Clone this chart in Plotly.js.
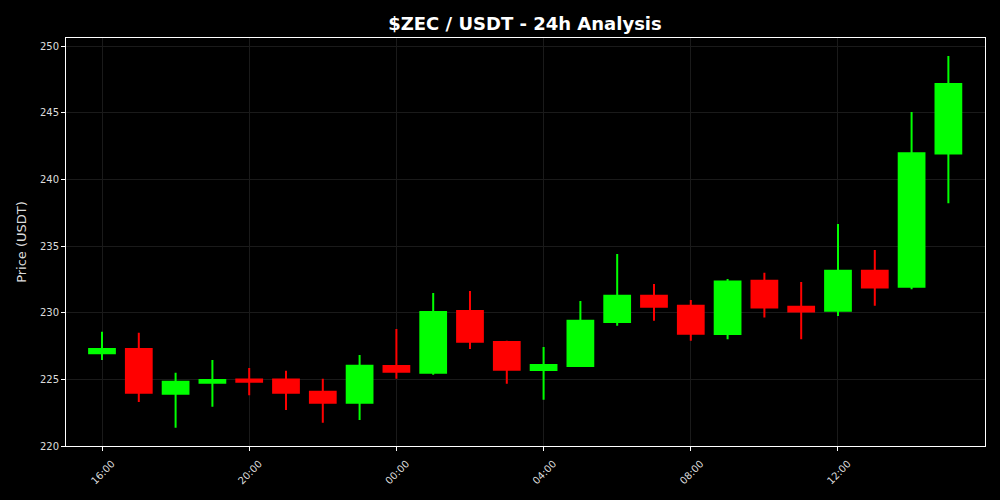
<!DOCTYPE html>
<html>
<head>
<meta charset="utf-8">
<script src="https://cdn.plot.ly/plotly-3.0.1.min.js"></script>
<style>html,body{margin:0;padding:0;background:#000;}#chart{width:1000px;height:500px;}</style>
</head>
<body>
<div id="chart"></div>
<script>
const times = [
  '2025-01-01 16:00','2025-01-01 17:00','2025-01-01 18:00','2025-01-01 19:00',
  '2025-01-01 20:00','2025-01-01 21:00','2025-01-01 22:00','2025-01-01 23:00',
  '2025-01-02 00:00','2025-01-02 01:00','2025-01-02 02:00','2025-01-02 03:00',
  '2025-01-02 04:00','2025-01-02 05:00','2025-01-02 06:00','2025-01-02 07:00',
  '2025-01-02 08:00','2025-01-02 09:00','2025-01-02 10:00','2025-01-02 11:00',
  '2025-01-02 12:00','2025-01-02 13:00','2025-01-02 14:00','2025-01-02 15:00'
];
const openP  = [226.95, 227.27, 223.92, 224.75, 224.98, 224.98, 224.07, 223.25,
                226.00, 225.50, 230.13, 227.80, 225.70, 226.00, 229.30, 231.27,
                230.52, 228.40, 232.40, 230.45, 230.15, 233.15, 231.95, 241.93];
const highP  = [228.57, 228.50, 225.50, 226.45, 225.85, 225.65, 225.05, 226.83,
                228.78, 231.47, 231.63, 227.90, 227.42, 230.88, 234.40, 232.15,
                230.95, 232.53, 233.00, 232.30, 236.65, 234.70, 245.05, 249.25];
const lowP   = [226.45, 223.30, 221.37, 222.95, 223.80, 222.70, 221.75, 221.95,
                225.05, 225.35, 227.27, 224.67, 223.47, 226.00, 229.02, 229.40,
                227.90, 228.00, 229.63, 228.00, 229.75, 230.52, 231.75, 238.20];
const closeP = [227.27, 224.00, 224.82, 224.95, 224.82, 224.00, 223.25, 226.02,
                225.57, 230.05, 227.82, 225.72, 226.07, 229.40, 231.27, 230.45,
                228.42, 232.33, 230.38, 230.08, 233.15, 231.88, 241.95, 247.15];
const yTicks = [220, 225, 230, 235, 240, 245, 250];

const trace = {
  type: 'candlestick',
  x: times, open: openP, high: highP, low: lowP, close: closeP,
  increasing: {line: {color: '#00ff00', width: 2}, fillcolor: '#00ff00'},
  decreasing: {line: {color: '#ff0000', width: 2}, fillcolor: '#ff0000'},
  whiskerwidth: 0,
  hoverinfo: 'x+y'
};

const gridC = '#1a1a1a';
const layout = {
  width: 1000, height: 500,
  paper_bgcolor: '#000', plot_bgcolor: '#000',
  margin: {l: 66, r: 15, t: 38, b: 54},
  showlegend: false,
  boxgap: 0,
  title: {text: '<b>$ZEC / USDT - 24h Analysis</b>', x: 0.525, xanchor: 'center', y: 0.953, yanchor: 'middle',
          font: {family: 'DejaVu Sans', size: 18, color: '#ffffff'}},
  xaxis: {
    type: 'date',
    range: ['2025-01-01 15:01:18', '2025-01-02 15:59:42'],
    rangeslider: {visible: false},
    tickformat: '%H:%M', dtick: 4*3600*1000, tick0: '2025-01-01 00:00',
    tickangle: -45,
    ticklabelshift: 10, ticklabelstandoff: 3,
    tickfont: {family: 'DejaVu Sans', size: 10, color: '#dddddd'},
    ticks: 'outside', ticklen: 4, tickcolor: '#ffffff', tickwidth: 1,
    showgrid: true, gridcolor: gridC, gridwidth: 1,
    showline: true, linecolor: '#ffffff', linewidth: 1, mirror: true,
    zeroline: false
  },
  yaxis: {
    range: [220, 250.6],
    tickvals: yTicks,
    tickfont: {family: 'DejaVu Sans', size: 10, color: '#dddddd'},
    ticks: 'outside', ticklen: 4, tickcolor: '#ffffff', tickwidth: 1,
    showgrid: true, gridcolor: gridC, gridwidth: 1,
    showline: true, linecolor: '#ffffff', linewidth: 1, mirror: true,
    zeroline: false,
    title: {text: 'Price (USDT)', standoff: 10, font: {family: 'DejaVu Sans', size: 13, color: '#dddddd'}}
  }
};

Plotly.newPlot('chart', [trace], layout, {displayModeBar: false, staticPlot: true});
</script>
</body>
</html>
